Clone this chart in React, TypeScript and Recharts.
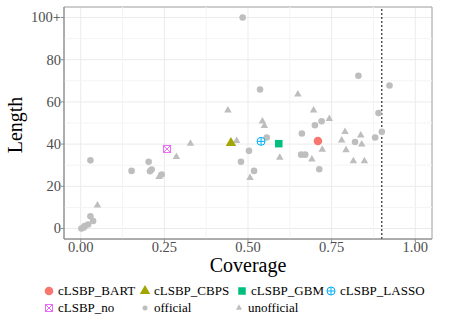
import React from 'react';
import { ScatterChart, Scatter, XAxis, YAxis, CartesianGrid, ReferenceLine, ReferenceArea } from 'recharts';

const officialCoverage = [0.484, 0.536, 0.830, 0.923, 0.720, 0.700, 0.890, 0.661, 0.659, 0.671, 0.713, 0.820, 0.880, 0.900, 0.556, 0.503, 0.479, 0.518, 0.029, 0.152, 0.203, 0.207, 0.212, 0.242, 0.029, 0.037, 0.022, 0.012, 0.002, 0.009];
const officialLength = [100, 65.9, 72.4, 67.8, 50.8, 48.9, 54.7, 45.0, 35.0, 35.0, 28.1, 41.0, 43.1, 45.8, 43.1, 36.8, 31.6, 27.3, 32.3, 27.3, 31.6, 27.1, 27.9, 25.6, 5.8, 3.5, 1.9, 1.1, 0.0, 0.5];

const unofficialCoverage = [0.649, 0.440, 0.543, 0.549, 0.696, 0.743, 0.466, 0.595, 0.506, 0.328, 0.286, 0.234, 0.050, 0.790, 0.837, 0.780, 0.840, 0.722, 0.793, 0.691, 0.815, 0.848];
const unofficialLength = [63.6, 56.0, 50.8, 48.6, 56.0, 52.0, 41.6, 33.6, 24.0, 40.2, 33.9, 24.5, 11.0, 45.8, 44.2, 41.8, 39.9, 37.4, 37.1, 32.8, 32.0, 32.0];

const methodNames = ['cLSBP_BART', 'cLSBP_CBPS', 'cLSBP_GBM', 'cLSBP_LASSO', 'cLSBP_no'];
const methodCoverage = [0.709, 0.449, 0.592, 0.539, 0.258];
const methodLength = [41.5, 40.5, 40.2, 41.3, 37.7];

const xTicks = [0, 0.25, 0.5, 0.75, 1];
const xMinor = [0.125, 0.375, 0.625, 0.875];
const yTicks = [0, 20, 40, 60, 80, 100];
const yMinor = [10, 30, 50, 70, 90];
const nominalCoverage = 0.9;

const GRAY = '#BEBEBE';
const COLORS = ['#F8766D', '#A3A500', '#00BF7D', '#00B0F6', '#E76BF3'];
const FONT = '"Liberation Serif", "Times New Roman", serif';

const toPoints = (xs: number[], ys: number[]) => xs.map((x, i) => ({ x, y: ys[i] }));
const officialData = toPoints(officialCoverage, officialLength);
const unofficialData = toPoints(unofficialCoverage, unofficialLength);

const tri = (cx: number, cy: number, w: number, h: number) =>
  `M${cx},${cy - (2 * h) / 3} L${cx + w / 2},${cy + h / 3} L${cx - w / 2},${cy + h / 3} Z`;

const CircleShape = (r: number, fill: string) => (p: any) => <circle cx={p.cx} cy={p.cy} r={r} fill={fill} />;
const TriShape = (w: number, h: number, fill: string) => (p: any) => <path d={tri(p.cx, p.cy, w, h)} fill={fill} />;
const SquareShape = (s: number, fill: string) => (p: any) => <rect x={p.cx - s / 2} y={p.cy - s / 2} width={s} height={s} fill={fill} />;
const CirclePlusShape = (r: number, stroke: string) => (p: any) => (
  <g fill="none" stroke={stroke} strokeWidth={1}>
    <circle cx={p.cx} cy={p.cy} r={r} />
    <line x1={p.cx - r} y1={p.cy} x2={p.cx + r} y2={p.cy} />
    <line x1={p.cx} y1={p.cy - r} x2={p.cx} y2={p.cy + r} />
  </g>
);
const SquareXShape = (s: number, stroke: string) => (p: any) => (
  <g fill="none" stroke={stroke} strokeWidth={1}>
    <rect x={p.cx - s / 2} y={p.cy - s / 2} width={s} height={s} />
    <line x1={p.cx - s / 2} y1={p.cy - s / 2} x2={p.cx + s / 2} y2={p.cy + s / 2} />
    <line x1={p.cx - s / 2} y1={p.cy + s / 2} x2={p.cx + s / 2} y2={p.cy - s / 2} />
  </g>
);

const methodShapes = [
  CircleShape(4.3, COLORS[0]),
  TriShape(10.5, 9, COLORS[1]),
  SquareShape(7.5, COLORS[2]),
  CirclePlusShape(4, COLORS[3]),
  SquareXShape(7, COLORS[4]),
];

const XTick = (p: any) => (
  <text x={p.x} y={p.y + 10} textAnchor="middle" fontFamily={FONT} fontSize={14.5} fill="#4D4D4D">
    {Number(p.payload.value).toFixed(2)}
  </text>
);
const YTick = (p: any) => (
  <text x={p.x} y={p.y + 4.8} textAnchor="end" fontFamily={FONT} fontSize={14.5} fill="#4D4D4D">
    {p.payload.value === 100 ? '100+' : String(p.payload.value)}
  </text>
);

export default function App() {
  const legendRow1 = [
    { key: 0, x: 49, label: methodNames[0] },
    { key: 1, x: 145, label: methodNames[1] },
    { key: 2, x: 242, label: methodNames[2] },
    { key: 3, x: 331, label: methodNames[3] },
  ];
  return (
    <div style={{ position: 'absolute', left: 0, top: 0, width: 449, height: 320, background: '#fff' }}>
      <ScatterChart width={449} height={320} margin={{ top: 7, right: 17, bottom: 51, left: 0 }}>
        <CartesianGrid stroke="#EBEBEB" strokeWidth={1} horizontal vertical />
        {xMinor.map((v) => (
          <ReferenceLine key={'xm' + v} x={v} stroke="#F4F4F4" strokeWidth={1} />
        ))}
        {yMinor.map((v) => (
          <ReferenceLine key={'ym' + v} y={v} stroke="#F4F4F4" strokeWidth={1} />
        ))}
        <XAxis
          type="number"
          dataKey="x"
          domain={[-0.05, 1.05]}
          ticks={xTicks}
          allowDataOverflow
          tickSize={3}
          tickMargin={0}
          height={30}
          stroke="#8C8C8C"
          tick={XTick}
          interval={0}
        />
        <YAxis
          type="number"
          dataKey="y"
          domain={[-5, 105]}
          ticks={yTicks}
          allowDataOverflow
          tickSize={3}
          tickMargin={0}
          width={64}
          stroke="#8C8C8C"
          tick={YTick}
          interval={0}
        />
        <ReferenceArea x1={-0.05} x2={1.05} y1={-5} y2={105} fill="none" stroke="#A6A6A6" strokeWidth={1} fillOpacity={0} />
        <Scatter name="official" data={officialData} shape={CircleShape(3.3, GRAY)} isAnimationActive={false} />
        <Scatter name="unofficial" data={unofficialData} shape={TriShape(7.5, 6.5, GRAY)} isAnimationActive={false} />
        {methodNames.map((n, i) => (
          <Scatter
            key={n}
            name={n}
            data={[{ x: methodCoverage[i], y: methodLength[i] }]}
            shape={methodShapes[i]}
            isAnimationActive={false}
          />
        ))}
        <ReferenceLine x={nominalCoverage} stroke="#000" strokeWidth={1} strokeDasharray="2 2" />
      </ScatterChart>
      <svg width={449} height={320} style={{ position: 'absolute', left: 0, top: 0, pointerEvents: 'none' }}>
        <text x={248} y={272} textAnchor="middle" fontFamily={FONT} fontSize={20} fill="#000">Coverage</text>
        <text x={22} y={125} transform="rotate(-90 22 125)" textAnchor="middle" fontFamily={FONT} fontSize={20} fill="#000">Length</text>
        {legendRow1.map((it) => (
          <g key={it.key}>
            {methodShapes[it.key]({ cx: it.x, cy: 291 })}
            <text x={it.x + 9} y={295} fontFamily={FONT} fontSize={13} fill="#000">{it.label}</text>
          </g>
        ))}
        <g>
          {methodShapes[4]({ cx: 49, cy: 308 })}
          <text x={58} y={312} fontFamily={FONT} fontSize={13} fill="#000">{methodNames[4]}</text>
        </g>
        <g>
          {CircleShape(2.5, GRAY)({ cx: 145, cy: 308 })}
          <text x={154} y={312} fontFamily={FONT} fontSize={13} fill="#000">official</text>
        </g>
        <g>
          {TriShape(6, 5.5, GRAY)({ cx: 239, cy: 308 })}
          <text x={248} y={312} fontFamily={FONT} fontSize={13} fill="#000">unofficial</text>
        </g>
      </svg>
    </div>
  );
}
